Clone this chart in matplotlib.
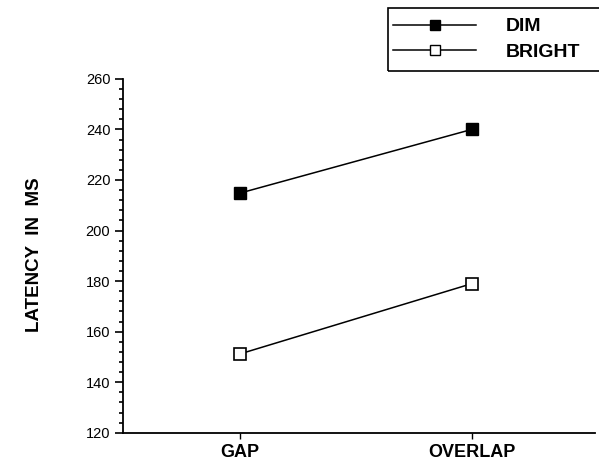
import matplotlib
matplotlib.use("Agg")
import matplotlib.pyplot as plt
from matplotlib.lines import Line2D
from matplotlib.patches import Rectangle
from matplotlib.ticker import MultipleLocator

plt.rcParams['font.family'] = ['Liberation Sans', 'DejaVu Sans']

# data
conditions = ["GAP", "OVERLAP"]
dim = [214.8, 240.0]
bright = [151.2, 179.0]
yticks = [120, 140, 160, 180, 200, 220, 240, 260]

x = list(range(len(conditions)))

fig = plt.figure(figsize=(5.99, 4.72), dpi=100)
ax = fig.add_axes([0.205, 0.083, 0.788, 0.750])

ax.plot(x, dim, color='black', linewidth=1.1, marker='s', markersize=8.5,
        markerfacecolor='black', markeredgecolor='black', clip_on=False)
ax.plot(x, bright, color='black', linewidth=1.1, marker='s', markersize=8.5,
        markerfacecolor='white', markeredgecolor='black', markeredgewidth=1.2,
        clip_on=False)

ax.set_xlim(-0.505, 1.53)
ax.set_ylim(120, 260)
ax.set_yticks(yticks)
ax.yaxis.set_minor_locator(MultipleLocator(4))
ax.set_xticks(x)
ax.set_xticklabels(conditions, fontsize=13, fontweight='bold')
ax.tick_params(axis='y', which='major', length=6, width=1.2, labelsize=10.5, pad=3)
ax.tick_params(axis='y', which='minor', length=3, width=1.2)
ax.tick_params(axis='x', length=4, width=1.0, pad=4)

for s in ['top', 'right']:
    ax.spines[s].set_visible(False)
for s in ['left', 'bottom']:
    ax.spines[s].set_linewidth(1.3)

fig.text(0.057, 0.46, "LATENCY  IN  MS", rotation=90, fontsize=13.5,
         fontweight='bold', ha='center', va='center')

handles = [
    Line2D([], [], color='black', linewidth=1.1, marker='s', markersize=6.5,
           markerfacecolor='black', markeredgecolor='black'),
    Line2D([], [], color='black', linewidth=1.1, marker='s', markersize=6.5,
           markerfacecolor='white', markeredgecolor='black'),
]
leg = fig.legend(handles, ["DIM", "BRIGHT"], loc='upper left',
                 bbox_to_anchor=(383 / 599, 1 - 8 / 472),
                 prop={'weight': 'bold', 'size': 14},
                 handlelength=4.3, handletextpad=1.5, labelspacing=0.42,
                 borderpad=0.5, borderaxespad=0, frameon=False)

# the legend box in the reference runs off the right edge
fig.canvas.draw()
bb = leg.get_window_extent().transformed(fig.transFigure.inverted())
fig.patches.append(Rectangle((388 / 599, bb.y0), 1.05 - 388 / 599, bb.height,
                             transform=fig.transFigure, fill=False,
                             edgecolor='black', linewidth=1.2, figure=fig))

fig.savefig("out.png", dpi=100)
